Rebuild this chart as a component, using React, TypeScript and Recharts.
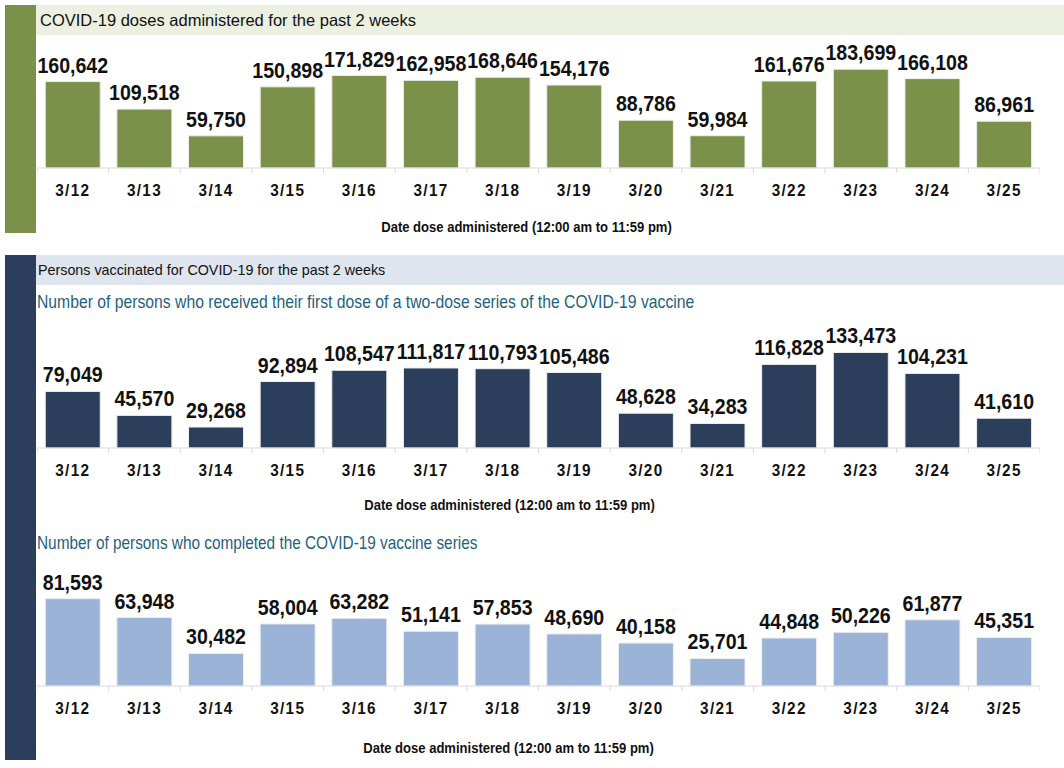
import React from "react";
import { BarChart, Bar, XAxis, YAxis, LabelList, Label } from "recharts";

const dates = [
  "3/12", "3/13", "3/14", "3/15", "3/16", "3/17", "3/18",
  "3/19", "3/20", "3/21", "3/22", "3/23", "3/24", "3/25",
];
const dosesAdministered = [
  160642, 109518, 59750, 150898, 171829, 162958, 168646,
  154176, 88786, 59984, 161676, 183699, 166108, 86961,
];
const firstDose = [
  79049, 45570, 29268, 92894, 108547, 111817, 110793,
  105486, 48628, 34283, 116828, 133473, 104231, 41610,
];
const completedSeries = [
  81593, 63948, 30482, 58004, 63282, 51141, 57853,
  48690, 40158, 25701, 44848, 50226, 61877, 45351,
];

const axisTitle = "Date dose administered (12:00 am to 11:59 pm)";
const sans = "'Liberation Sans', Arial, sans-serif";
const axisColor = "#d9d9d9";

const toRows = (values: number[]) =>
  dates.map((date, i) => ({ date, value: values[i] }));

// the source font is a condensed one, so squeeze Liberation Sans a bit
const DateTick = (props: any) => {
  const { x, y, payload, index, visibleTicksCount } = props;
  const half = payload && payload.offset > 0 ? payload.offset : 35.8;
  const y0 = y - 8;
  return (
    <g>
      <line x1={x - half} y1={y0} x2={x - half} y2={y0 + 5} stroke={axisColor} />
      {index === visibleTicksCount - 1 && (
        <line x1={x + half} y1={y0} x2={x + half} y2={y0 + 5} stroke={axisColor} />
      )}
      <text
        transform={`translate(${x},${y0 + 27.5}) scale(0.9,1)`}
        textAnchor="middle"
        fontFamily={sans}
        fontWeight="bold"
        fontSize={17}
        letterSpacing={1.5}
        fill="#111"
      >
        {payload.value}
      </text>
    </g>
  );
};

const ValueLabel = (props: any) => {
  const { x, y, width, value } = props;
  return (
    <text
      transform={`translate(${x + width / 2},${y - 9}) scale(0.87,1)`}
      textAnchor="middle"
      fontFamily={sans}
      fontWeight="bold"
      fontSize={22.5}
      fill="#111"
    >
      {Number(value).toLocaleString("en-US")}
    </text>
  );
};

type PanelProps = {
  values: number[];
  color: string;
  max: number;
  plotHeight: number;
  top: number;
  marginTop: number;
  titleOffset: number;
  titleDx: number;
};

const Panel = ({ values, color, max, plotHeight, top, marginTop, titleOffset, titleDx }: PanelProps) => (
  <div style={{ position: "absolute", left: 37, top }}>
    <BarChart
      width={1003}
      height={marginTop + plotHeight + 72}
      data={toRows(values)}
      margin={{ top: marginTop, right: 0, bottom: 0, left: 0 }}
      barCategoryGap="11.5%"
    >
      <XAxis
        dataKey="date"
        height={72}
        tickLine={false}
        axisLine={{ stroke: axisColor }}
        tick={<DateTick />}
        interval={0}
      >
        <Label
          content={(p: any) => {
            const vb = p.viewBox;
            return (
              <text
                transform={`translate(${vb.x + vb.width / 2 + titleDx},${vb.y + vb.height - titleOffset}) scale(0.87,1)`}
                textAnchor="middle"
                fontFamily={sans}
                fontWeight="bold"
                fontSize={15}
                fill="#111"
              >
                {axisTitle}
              </text>
            );
          }}
        />
      </XAxis>
      <YAxis hide domain={[0, max]} />
      <Bar dataKey="value" fill={color} stroke="#eeeeee" strokeWidth={1} isAnimationActive={false}>
        <LabelList dataKey="value" content={<ValueLabel />} />
      </Bar>
    </BarChart>
  </div>
);

const subtitleStyle: React.CSSProperties = {
  position: "absolute",
  left: 37,
  fontFamily: sans,
  fontSize: 18.5,
  color: "#1f5f80",
  whiteSpace: "nowrap",
  lineHeight: "22px",
  transform: "scaleX(0.85)",
  transformOrigin: "left center",
};

const App = () => (
  <div
    style={{
      position: "absolute",
      left: 0,
      top: 0,
      width: 1064,
      height: 768,
      background: "#fff",
      overflow: "hidden",
    }}
  >
    {/* doses section */}
    <div style={{ position: "absolute", left: 5, top: 5, width: 31, height: 228, background: "#7b914a" }} />
    <div
      style={{
        position: "absolute", left: 36, top: 5, width: 1028, height: 30, background: "#ebf0e1",
        fontFamily: sans, fontSize: 16.5, color: "#111", lineHeight: "30px", paddingLeft: 4, boxSizing: "border-box",
      }}
    >
      COVID-19 doses administered for the past 2 weeks
    </div>
    <Panel values={dosesAdministered} color="#7b914a" max={200000} plotHeight={107.6} top={40} marginTop={20.4} titleOffset={8.5} titleDx={-12} />

    {/* persons vaccinated section */}
    <div style={{ position: "absolute", left: 5, top: 255, width: 31, height: 505, background: "#2b3e5c" }} />
    <div
      style={{
        position: "absolute", left: 36, top: 255, width: 1028, height: 30, background: "#dee5ee",
        fontFamily: sans, fontSize: 14.3, color: "#111", lineHeight: "30px", paddingLeft: 2, boxSizing: "border-box",
      }}
    >
      Persons vaccinated for COVID-19 for the past 2 weeks
    </div>
    <div style={{ ...subtitleStyle, top: 291 }}>
      Number of persons who received their first dose of a two-dose series of the COVID-19 vaccine
    </div>
    <Panel values={firstDose} color="#2b3e5c" max={140000} plotHeight={100.2} top={320} marginTop={27.8} titleOffset={10} titleDx={-29} />

    <div style={{ ...subtitleStyle, top: 532, transform: "scaleX(0.83)" }}>
      Number of persons who completed the COVID-19 vaccine series
    </div>
    <Panel values={completedSeries} color="#9bb3d6" max={90000} plotHeight={96.3} top={560} marginTop={29.7} titleOffset={5} titleDx={-30} />
  </div>
);

export default App;
